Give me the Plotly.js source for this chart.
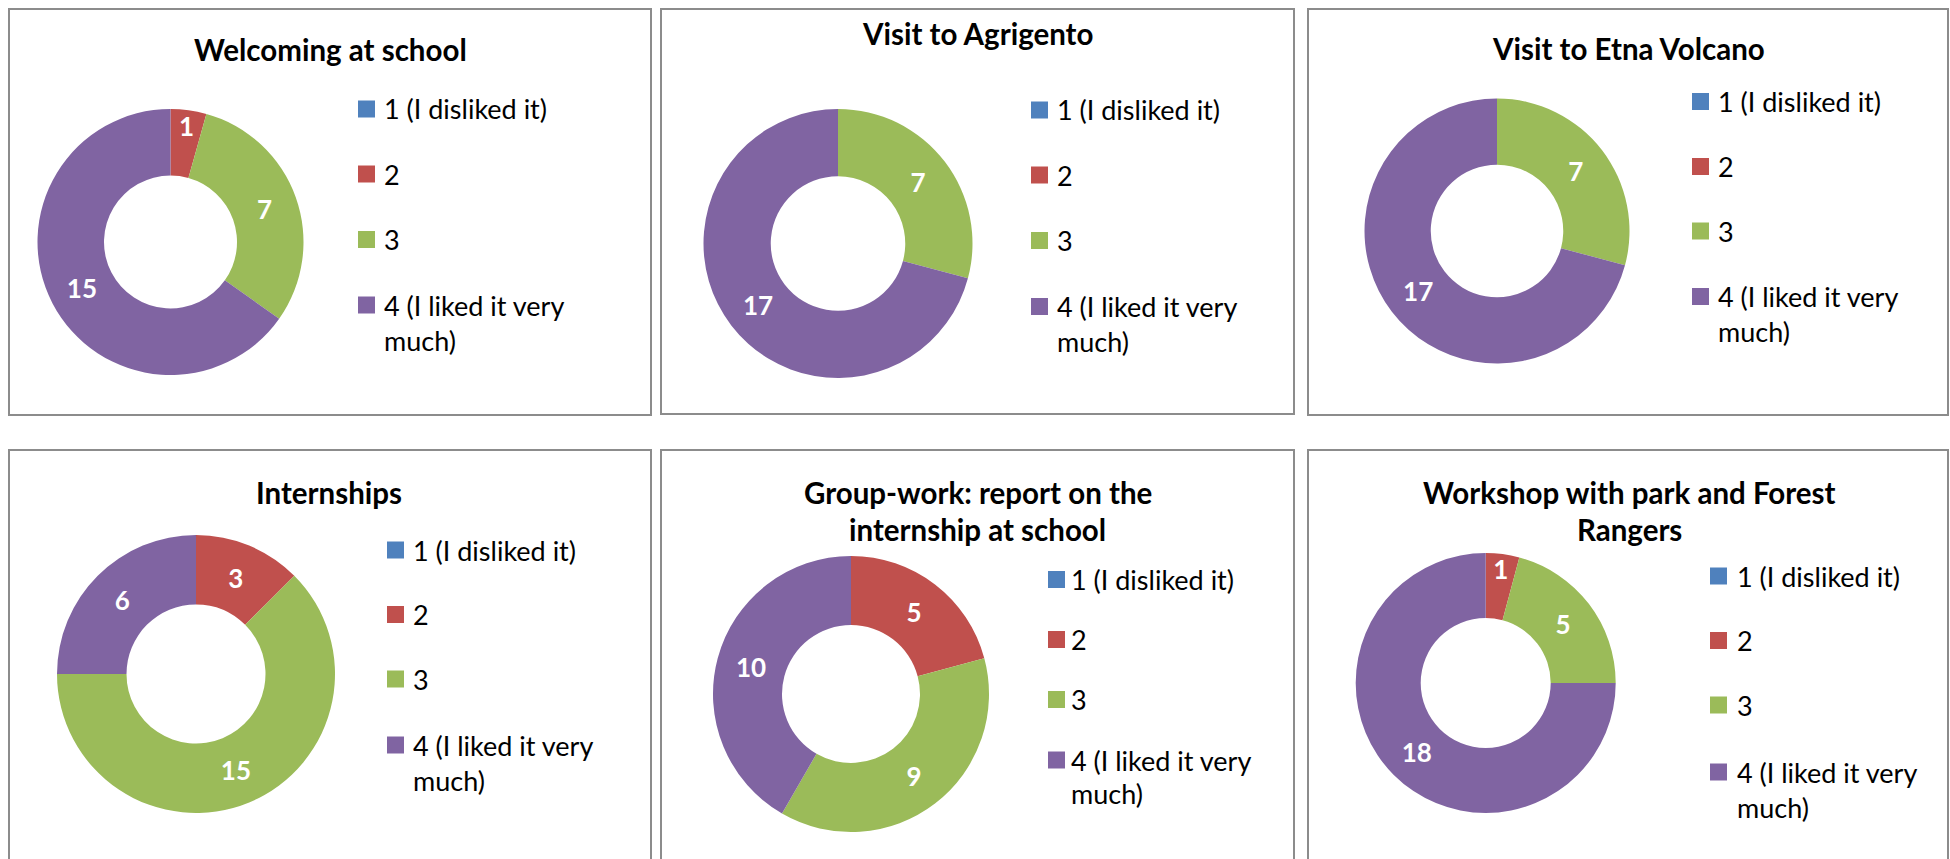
<!DOCTYPE html>
<html>
<head>
<meta charset="utf-8">
<script src="https://cdn.plot.ly/plotly-3.0.1.min.js"></script>
<style>
html,body{margin:0;padding:0;background:#fff;}
#chart{width:1950px;height:859px;}
</style>
</head>
<body>
<div id="chart"></div>
<script>
// ---------- DATA ----------
const categories = ['1 (I disliked it)', '2', '3', '4 (I liked it very much)'];
const legendLabels = ['1 (I disliked it)', '2', '3', '4 (I liked it very<br>much)'];
const colors = ['#4F81BD', '#C0504D', '#9BBB59', '#8064A2'];

const titleWelcoming = ['Welcoming at school'];
const titleAgrigento = ['Visit to Agrigento'];
const titleEtna = ['Visit to Etna Volcano'];
const titleInternships = ['Internships'];
const titleGroupWork = ['Group-work: report on the', 'internship at school'];
const titleWorkshop = ['Workshop with park and Forest', 'Rangers'];

const valuesWelcoming = [0, 1, 7, 15];
const valuesAgrigento = [0, 0, 7, 17];
const valuesEtna = [0, 0, 7, 17];
const valuesInternships = [0, 3, 15, 6];
const valuesGroupWork = [0, 5, 9, 10];
const valuesWorkshop = [0, 1, 5, 18];

// ---------- LAYOUT (pixel geometry of each panel) ----------
const W = 1950, H = 859;
const FONT = 'Lato, Carlito, Calibri, "Liberation Sans", sans-serif';
const panels = [
  {title: titleWelcoming, values: valuesWelcoming, box: [9, 9, 651, 415], tx: 330, ty: [50],
   cx: 170.5, cy: 242, r: 133, sqx: 358, txx: 382, rows: [109, 174, 239.5, 305], dy2: 35},
  {title: titleAgrigento, values: valuesAgrigento, box: [661, 9, 1294, 414], tx: 977, ty: [33],
   cx: 838, cy: 243.5, r: 134.5, sqx: 1031, txx: 1055, rows: [110, 175, 240.5, 306.5], dy2: 35},
  {title: titleEtna, values: valuesEtna, box: [1308, 9, 1948, 415], tx: 1628.5, ty: [49],
   cx: 1497, cy: 231, r: 132.5, sqx: 1692, txx: 1716, rows: [101.5, 166.5, 231, 296.5], dy2: 35},
  {title: titleInternships, values: valuesInternships, box: [9, 450, 651, 880], tx: 329, ty: [492],
   cx: 196, cy: 674, r: 139, sqx: 387, txx: 411, rows: [550, 614.5, 679, 745], dy2: 35},
  {title: titleGroupWork, values: valuesGroupWork, box: [661, 450, 1294, 880], tx: 978, ty: [492, 529],
   cx: 851, cy: 694, r: 138, sqx: 1048, txx: 1069, rows: [579.5, 639.5, 699.5, 760], dy2: 33},
  {title: titleWorkshop, values: valuesWorkshop, box: [1308, 450, 1948, 880], tx: 1629, ty: [492, 529.5],
   cx: 1485.7, cy: 683, r: 130, sqx: 1710, txx: 1735, rows: [576, 640.5, 705, 772], dy2: 35}
];

const px = x => x / W;
const py = y => 1 - y / H;

const traces = [];
const shapes = [];
const annotations = [];

panels.forEach(p => {
  traces.push({
    type: 'pie',
    labels: categories,
    values: p.values,
    text: p.values.map(v => v > 0 ? String(v) : ''),
    textinfo: 'text',
    textposition: 'inside',
    insidetextorientation: 'horizontal',
    textfont: {family: FONT, size: 26, color: '#ffffff', weight: 700},
    hole: 0.5,
    sort: false,
    direction: 'clockwise',
    rotation: 0,
    marker: {colors: colors, line: {width: 0}},
    showlegend: false,
    hoverinfo: 'label+value',
    domain: {x: [px(p.cx - p.r), px(p.cx + p.r)], y: [py(p.cy + p.r), py(p.cy - p.r)]}
  });

  // panel border
  shapes.push({type: 'rect', xref: 'paper', yref: 'paper',
    x0: px(p.box[0]), x1: px(p.box[2]), y0: py(p.box[3]), y1: py(p.box[1]),
    line: {color: '#8c8c8c', width: 2}, fillcolor: 'rgba(0,0,0,0)', layer: 'below'});

  // title
  p.title.forEach((line, k) => {
    annotations.push({xref: 'paper', yref: 'paper', x: px(p.tx), y: py(p.ty[k]),
      xanchor: 'center', yanchor: 'middle', showarrow: false, text: line,
      font: {family: FONT, size: 29.5, color: '#000000', weight: 700}});
  });

  // legend
  const sq = 17;
  legendLabels.forEach((lab, k) => {
    const ry = p.rows[k];
    shapes.push({type: 'rect', xref: 'paper', yref: 'paper',
      x0: px(p.sqx), x1: px(p.sqx + sq), y0: py(ry + sq / 2), y1: py(ry - sq / 2),
      line: {width: 0}, fillcolor: colors[k]});
    lab.split('<br>').forEach((ln, j) => {
      annotations.push({xref: 'paper', yref: 'paper', x: px(p.txx), y: py(ry + j * p.dy2),
        xanchor: 'left', yanchor: 'middle', showarrow: false, text: ln,
        font: {family: FONT, size: 27, color: '#000000'}});
    });
  });
});

const layout = {
  width: W, height: H,
  margin: {l: 0, r: 0, t: 0, b: 0, pad: 0},
  paper_bgcolor: '#ffffff',
  plot_bgcolor: '#ffffff',
  showlegend: false,
  uniformtext: {mode: 'show', minsize: 26},
  shapes: shapes,
  annotations: annotations
};

Plotly.newPlot('chart', traces, layout, {displayModeBar: false, staticPlot: true});
</script>
</body>
</html>
